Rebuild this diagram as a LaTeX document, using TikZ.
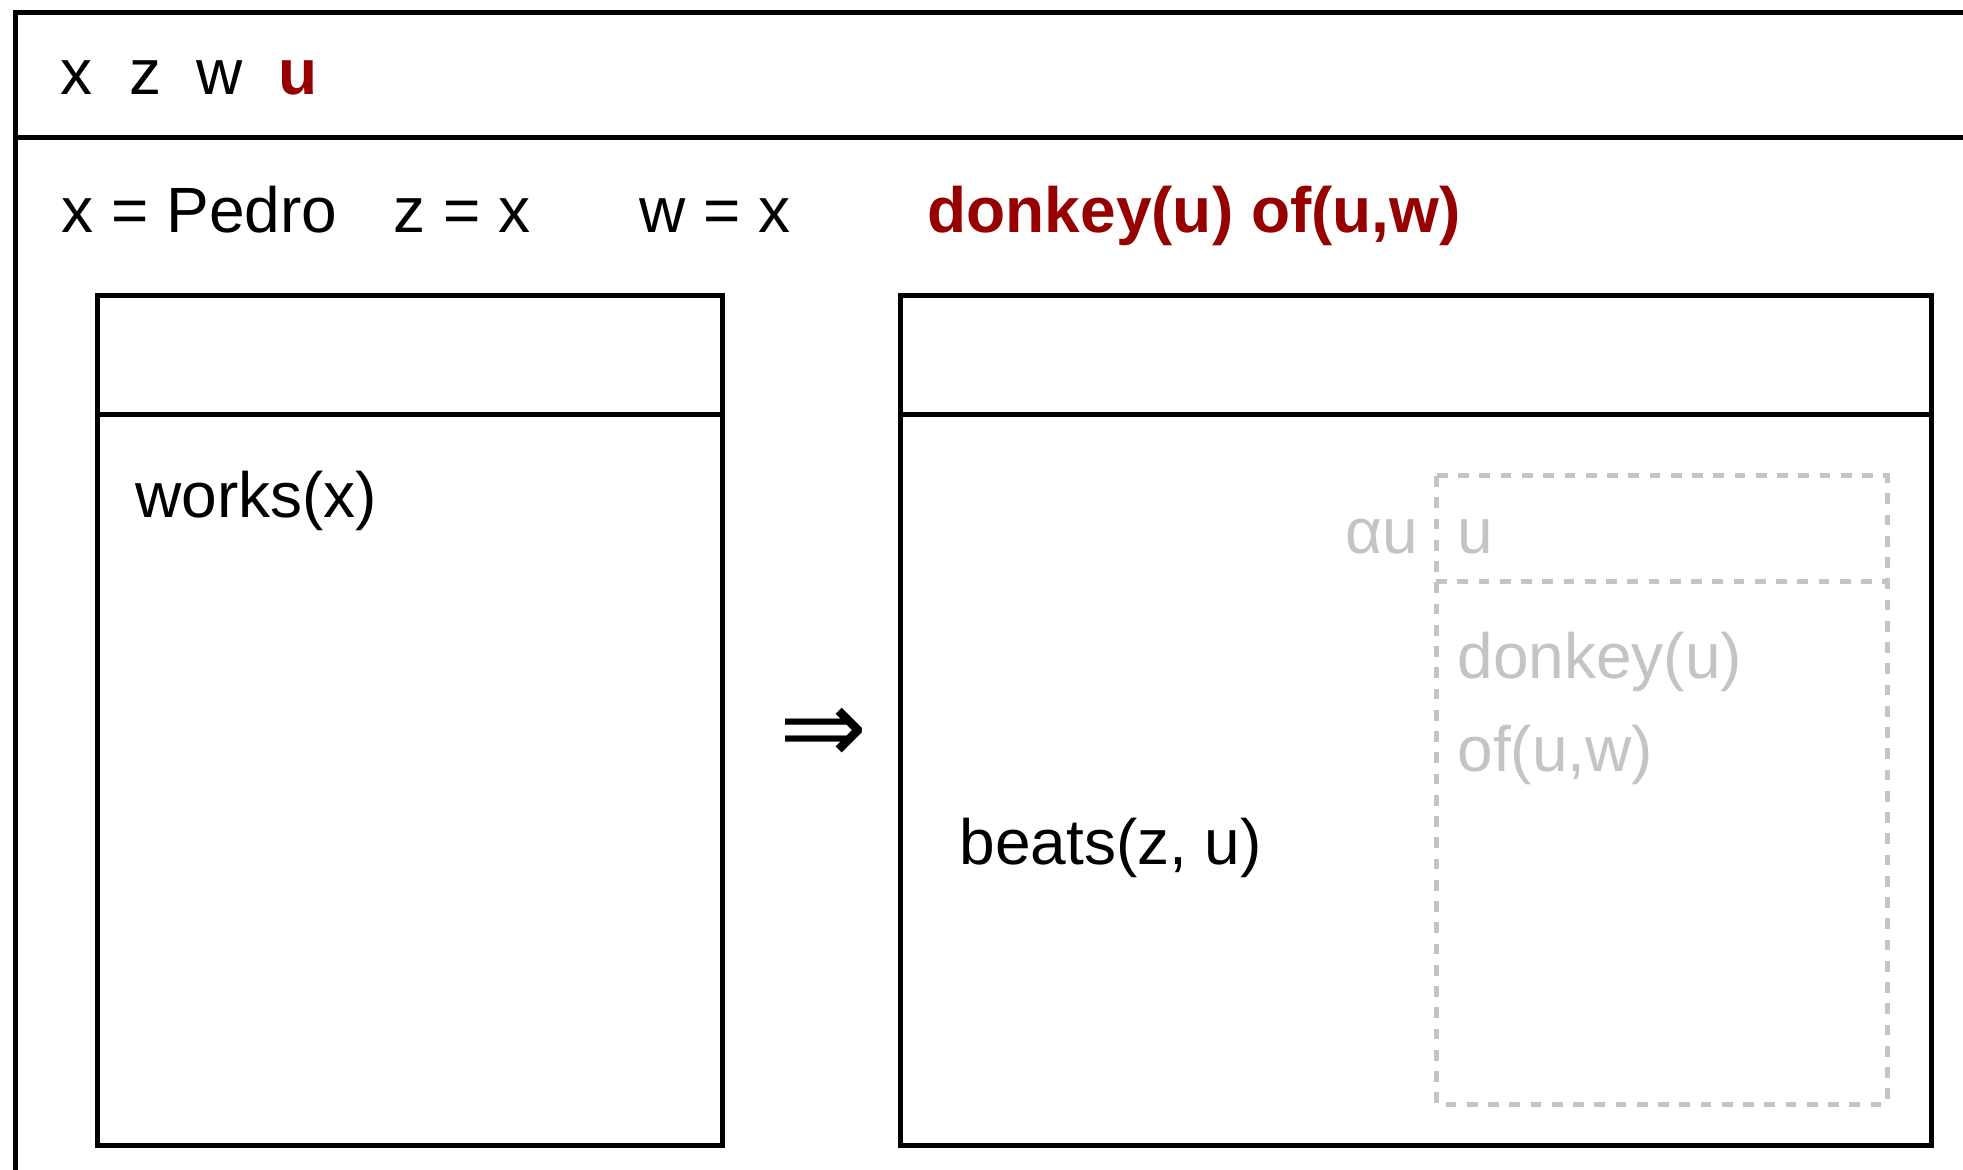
\documentclass[tikz,border=0pt]{standalone}
\usepackage{fontspec}
\setmainfont{Liberation Sans}
\newfontfamily\arrowfont{DejaVu Sans}
\definecolor{drsred}{RGB}{150,0,0}
\definecolor{ghost}{RGB}{196,196,196}
\begin{document}
\begin{tikzpicture}[x=0.4pt,y=-0.4pt,
  txt/.style={anchor=base west,inner sep=0pt,font=\fontsize{25.6}{30}\selectfont},
  redtxt/.style={txt,text=drsred,font=\fontsize{25.6}{30}\selectfont\bfseries},
  ghosttxt/.style={txt,text=ghost},
  boxline/.style={line width=2pt,line join=miter},
  ghostline/.style={line width=2pt,ghost,dash pattern=on 4.3pt off 4.2pt},
]
\useasboundingbox (0,0) rectangle (1963,1170);
% outer box (cut off at right and bottom)
\draw[boxline] (2100,12.5) -- (15,12.5) -- (15,1300);
\draw[boxline] (15,137.5) -- (2100,137.5);
% header referents
\node[txt] (hx) at (60,95) {x};
\node[txt] (hz) at (129,95) {z};
\node[txt] (hw) at (196,95) {w};
\node[redtxt] (hu) at (278,95) {u};
% conditions
\node[txt] (c1) at (61,232.7) {x = Pedro};
\node[txt] (c2) at (393,232.7) {z = x};
\node[txt] (c3) at (639,232.7) {w = x};
\node[redtxt] (c4) at (927,232.7) {donkey(u) of(u,w)};
% left sub-box
\draw[boxline] (97.5,295.5) rectangle (722,1145);
\draw[boxline] (97.5,415) -- (722,415);
\node[txt] (works) at (135,518) {works(x)};
% implication arrow
\node[inner sep=0pt,font=\arrowfont\fontsize{42}{42}\selectfont] (impl) at (823.5,736) {⇒};
% right sub-box
\draw[boxline] (900,295.5) rectangle (1931,1145);
\draw[boxline] (900,415) -- (1931,415);
\node[txt] (beats) at (959,864) {beats(z, u)};
% ghost (accommodated) box
\draw[ghostline] (1436,476) rectangle (1887,1104);
\draw[ghostline] (1436,581.7) -- (1887,581.7);
\node[ghosttxt] (au) at (1345,553) {αu};
\node[ghosttxt] (gu) at (1457,553) {u};
\node[ghosttxt] (gd) at (1457,678) {donkey(u)};
\node[ghosttxt] (go) at (1457,771.7) {of(u,w)};
\end{tikzpicture}
\end{document}
